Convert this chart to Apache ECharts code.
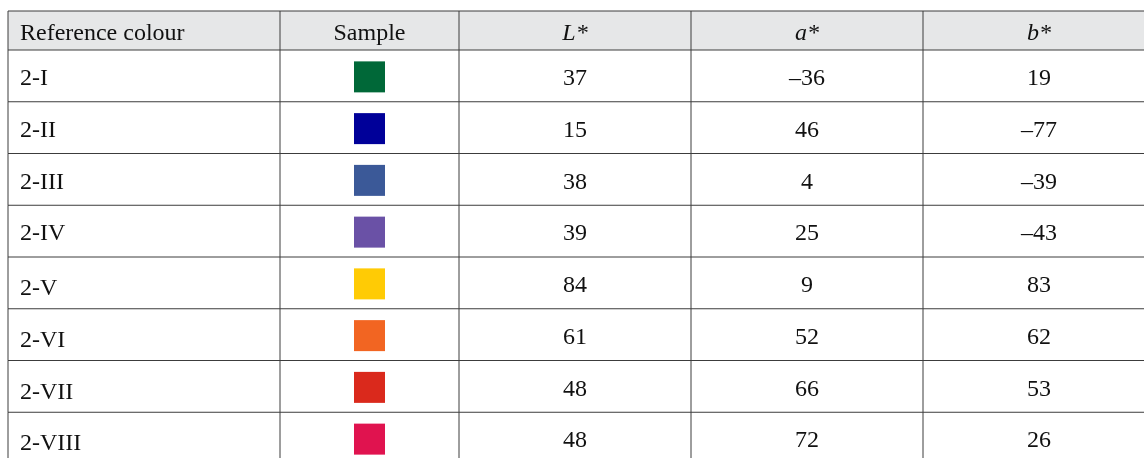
<!DOCTYPE html>
<html>
<head>
<meta charset="utf-8">
<title>Reference colours</title>
<script src="https://cdn.jsdelivr.net/npm/echarts@6/dist/echarts.min.js"></script>
<style>
  html, body { margin: 0; padding: 0; background: #fff; }
  #chart { width: 1144px; height: 458px; }
</style>
</head>
<body>
<div id="chart"></div>
<script>
// table data
const columns = ['Reference colour', 'Sample', 'L*', 'a*', 'b*']
const labels = ['2-I', '2-II', '2-III', '2-IV', '2-V', '2-VI', '2-VII', '2-VIII']
const sampleColours = ['#006838', '#000099', '#3b5998', '#6a51a6', '#ffcb05', '#f26522', '#da291c', '#e0134f']
const lValues = [37, 15, 38, 39, 84, 61, 48, 48]
const aValues = [-36, 46, 4, 25, 9, 52, 66, 72]
const bValues = [19, -77, -39, -43, 83, 62, 53, 26]

// layout (pixels); the last column runs past the right edge of the page
const colWidths = [272, 179, 232, 232, 232]
const edges = colWidths.reduce((acc, w) => { acc.push(acc[acc.length - 1] + w); return acc }, [0])
const gridLeft = 8
const headerTop = 11
const headerH = 39
const bodyTop = headerTop + headerH
const rowH = 51.75
const pageW = 1144
const pageH = 458
const lineColour = '#3c3c3c'
const fontFamily = '"Liberation Serif", "DejaVu Serif", serif'
const fontSize = 24

const fmt = v => (v < 0 ? '\u2013' + Math.abs(v) : String(v))
const numberCols = [lValues, aValues, bValues]

function cellLines(x0, x1, top, h) {
    return [
        { type: 'line', shape: { x1: x0, y1: top, x2: x1, y2: top }, style: { stroke: lineColour, lineWidth: 1 } },
        { type: 'line', shape: { x1: x0, y1: top, x2: x0, y2: top + h }, style: { stroke: lineColour, lineWidth: 1 } }
    ]
}

// y on both grids is a value axis: band [row, row + 1], centre row + 0.5
function cellBox(api) {
    const col = api.value(0)
    const row = api.value(1)
    const a = api.coord([edges[col], row])
    const b = api.coord([edges[col + 1], row + 1])
    return { col, row, x0: a[0], x1: b[0], top: a[1], h: b[1] - a[1], cy: (a[1] + b[1]) / 2 }
}

function renderHeader(params, api) {
    const c = cellBox(api)
    const left = c.col === 0
    return {
        type: 'group',
        children: [
            { type: 'rect', shape: { x: c.x0, y: c.top, width: c.x1 - c.x0, height: c.h }, style: { fill: '#e6e7e8' } },
            ...cellLines(c.x0, c.x1, c.top, c.h),
            {
                type: 'text',
                style: {
                    x: left ? c.x0 + 12 : (c.x0 + c.x1) / 2,
                    y: c.cy + 3,
                    text: columns[c.col],
                    fill: '#111',
                    font: (c.col >= 2 ? 'italic ' : '') + fontSize + 'px ' + fontFamily,
                    align: left ? 'left' : 'center',
                    verticalAlign: 'middle'
                }
            }
        ]
    }
}

function renderBody(params, api) {
    const c = cellBox(api)
    const cx = (c.x0 + c.x1) / 2
    const children = cellLines(c.x0, c.x1, c.top, c.h)
    if (c.col === 1) {
        const s = 31
        children.push({
            type: 'rect',
            shape: { x: cx - s / 2, y: c.cy - s / 2 + 1, width: s, height: s },
            style: { fill: sampleColours[c.row] }
        })
    } else {
        const left = c.col === 0
        children.push({
            type: 'text',
            style: {
                x: left ? c.x0 + 12 : cx,
                y: c.cy + (left && c.row >= 4 ? 6 : 3),
                text: left ? labels[c.row] : fmt(numberCols[c.col - 2][c.row]),
                fill: '#111',
                font: fontSize + 'px ' + fontFamily,
                align: left ? 'left' : 'center',
                verticalAlign: 'middle'
            }
        })
    }
    return { type: 'group', children }
}

const headerData = columns.map((c, i) => [i, 0])
const bodyData = []
labels.forEach((l, r) => {
    columns.forEach((c, i) => bodyData.push([i, r]))
})

const gridW = pageW - gridLeft
const bodyH = pageH - bodyTop

const chart = echarts.init(document.getElementById('chart'))
chart.setOption({
    animation: false,
    grid: [
        { left: gridLeft, top: headerTop, width: gridW, height: headerH },
        { left: gridLeft, top: bodyTop, width: gridW, height: bodyH }
    ],
    xAxis: [
        { gridIndex: 0, type: 'value', min: 0, max: gridW, show: false },
        { gridIndex: 1, type: 'value', min: 0, max: gridW, show: false }
    ],
    yAxis: [
        { gridIndex: 0, type: 'value', min: 0, max: 1, inverse: true, show: false },
        { gridIndex: 1, type: 'value', min: 0, max: bodyH / rowH, inverse: true, show: false }
    ],
    series: [
        { type: 'custom', xAxisIndex: 0, yAxisIndex: 0, renderItem: renderHeader, data: headerData, silent: true, clip: false },
        { type: 'custom', xAxisIndex: 1, yAxisIndex: 1, renderItem: renderBody, data: bodyData, silent: true, clip: false }
    ]
})
</script>
</body>
</html>
